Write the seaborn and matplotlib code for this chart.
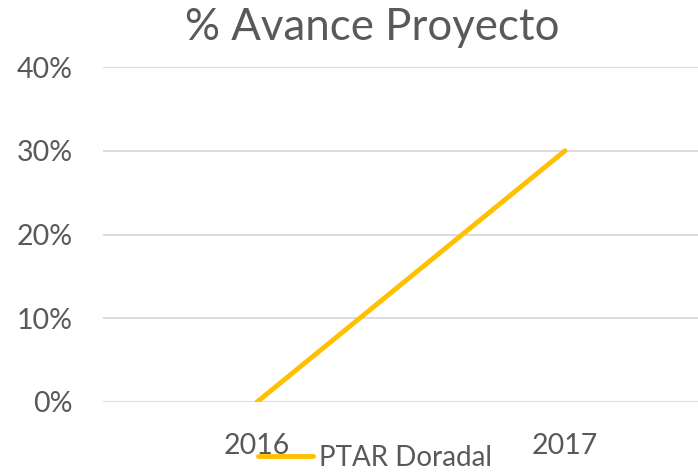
import matplotlib
matplotlib.use("Agg")
import matplotlib.pyplot as plt
import seaborn as sns
import pandas as pd
from matplotlib.ticker import PercentFormatter
from matplotlib.lines import Line2D

years = ["2016", "2017"]
avance = [0.0, 0.30]
series_name = "PTAR Doradal"
title = "% Avance Proyecto"
yticks = [0.0, 0.1, 0.2, 0.3, 0.4]

sns.set_theme(style="white")
plt.rcParams['font.family'] = ['Lato', 'DejaVu Sans']

df = pd.DataFrame({"Año": years, "Avance": avance, "Serie": series_name})

fig = plt.figure(figsize=(6.98, 4.73), dpi=100)
ax = fig.add_axes([103/698, 1 - 402/473, 616/698, 335/473])

sns.lineplot(data=df, x="Año", y="Avance", hue="Serie", palette=["#FFC000"],
             linewidth=3.5, ax=ax, solid_capstyle="round", legend=False)

ax.set_xlim(-0.5, 1.5)
ax.set_ylim(0, 0.4)
ax.set_yticks(yticks)
ax.yaxis.set_major_formatter(PercentFormatter(1.0, decimals=0))
ax.grid(axis="y", color="#D9D9D9", linewidth=1.3)
ax.set_axisbelow(True)
for s in ax.spines.values():
    s.set_visible(False)
ax.tick_params(axis="both", length=0, labelsize=20.5, labelcolor="#595959")
ax.tick_params(axis="y", pad=22)
ax.tick_params(axis="x", pad=22)
ax.set_xlabel("")
ax.set_ylabel("")

fig.text(372/698, 1 - 28/473, title, ha="center", va="center",
         fontsize=31.5, color="#595959")

h = Line2D([], [], color="#FFC000", linewidth=3.5, solid_capstyle="round")
fig.legend([h], [series_name], loc="center", bbox_to_anchor=(375/698, 1 - 458/473),
           frameon=False, fontsize=20, labelcolor="#595959",
           handlelength=2.0, handletextpad=0.2, borderaxespad=0)

fig.savefig("out.png", dpi=100)
